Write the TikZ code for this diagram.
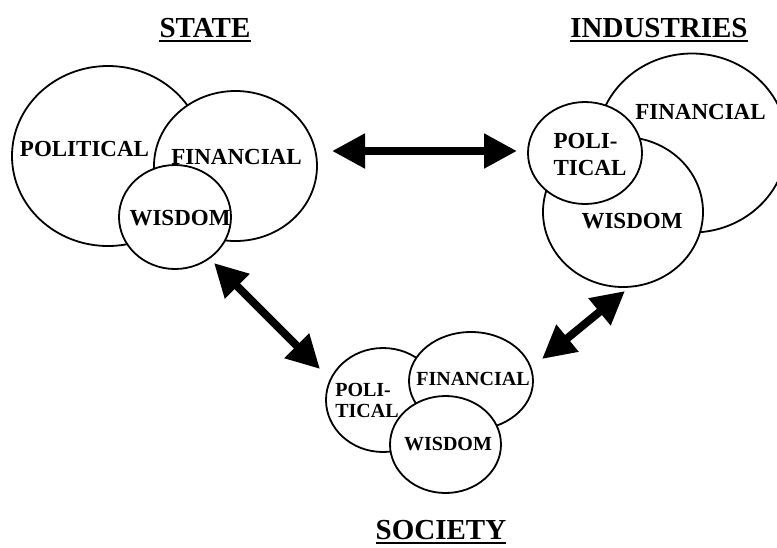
\documentclass[tikz,border=0pt]{standalone}
\usepackage{fontspec}
\setmainfont{Liberation Serif}
\usepackage{tikz}
\usetikzlibrary{positioning,arrows.meta,shapes.geometric}

\tikzset{
  blob/.style={ellipse, draw, line width=1.8pt, fill=white, inner sep=0pt},
  lbl/.style={font=\fontsize{23}{27}\selectfont\bfseries, inner sep=0pt, align=left},
  slbl/.style={font=\fontsize{20}{21}\selectfont\bfseries, inner sep=0pt, align=left},
  ttl/.style={font=\fontsize{29}{32}\selectfont\bfseries, inner sep=0pt},
  link/.style={line width=8pt, {Triangle[length=33pt,width=33pt]}-{Triangle[length=33pt,width=33pt]}},
}

\begin{document}
\begin{tikzpicture}[x=1pt, y=-1pt]
    \clip (0,0) rectangle (777,547);

    % state
    \node[blob, minimum width=192pt, minimum height=180pt] (stPol) at (108,156) {};
    \node[blob, minimum width=163pt, minimum height=150pt] (stFin) at (235.5,166) {};
    \node[blob, minimum width=112pt, minimum height=104pt] (stWis) at (175,217) {};

    % industries
    \node[blob, minimum width=190pt, minimum height=179pt] (inFin) at (692,143) {};
    \node[blob, minimum width=160pt, minimum height=150pt] (inWis) at (623,212) {};
    \node[blob, minimum width=114pt, minimum height=102pt] (inPol) at (585,153) {};

    % society
    \node[blob, minimum width=114pt, minimum height=104pt] (soPol) at (383,400) {};
    \node[blob, minimum width=124pt, minimum height=98pt] (soFin) at (471,381) {};
    \node[blob, minimum width=111pt, minimum height=97pt] (soWis) at (445.5,444.5) {};

    % labels
    \node[lbl] (stPolT) at (84.5,148.5) {POLITICAL};
    \node[lbl] (stFinT) at (236.5,157) {FINANCIAL};
    \node[lbl] (stWisT) at (180,218.5) {WISDOM};

    \node[lbl] (inFinT) at (700.5,112) {FINANCIAL};
    \node[lbl] (inPolT) at (590,154) {POLI-\\TICAL};
    \node[lbl] (inWisT) at (632,221) {WISDOM};

    \node[slbl] (soPolT) at (367,400) {POLI-\\TICAL};
    \node[slbl] (soFinT) at (473,379) {FINANCIAL};
    \node[slbl] (soWisT) at (448,444) {WISDOM};

    % titles
    \node[ttl] (stT) at (205,28) {STATE};
    \node[ttl] (inT) at (659,28) {INDUSTRIES};
    \node[ttl] (soT) at (441,530) {SOCIETY};
    \foreach \t in {stT,inT,soT}
      \draw[line width=2pt] ([yshift=-4pt]\t.base west) -- ([yshift=-4pt]\t.base east);

    % arrows
    \coordinate (hL) at (332,151);
    \coordinate (hR) at (517,151);
    \coordinate (dL1) at (214,263);
    \coordinate (dL2) at (320,369);
    \coordinate (dR1) at (625,291);
    \coordinate (dR2) at (542,359);
    \draw[link] (hL) -- (hR);
    \draw[link] (dL1) -- (dL2);
    \draw[link] (dR1) -- (dR2);
  \end{tikzpicture}
\end{document}
